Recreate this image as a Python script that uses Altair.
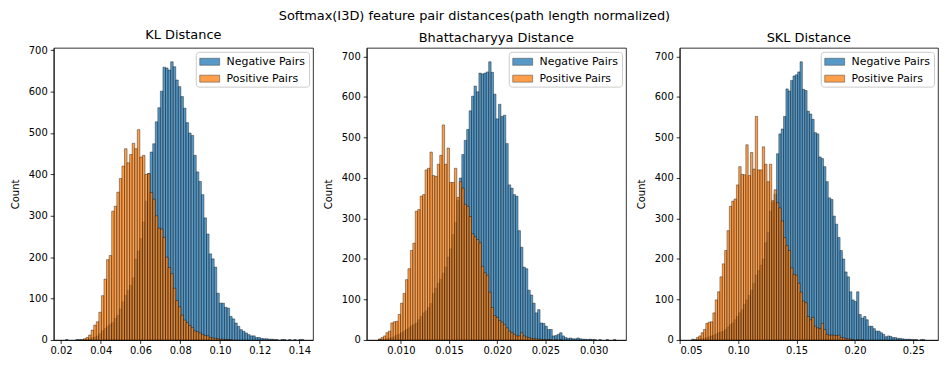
import altair as alt
import pandas as pd

SERIES = ["Negative Pairs", "Positive Pairs"]
COLORS = ["#1f77b4", "#ff7f0e"]
SUPTITLE = "Softmax(I3D) feature pair distances(path length normalized)"
TITLES = ["KL Distance", "Bhattacharyya Distance", "SKL Distance"]
Y_TICKS = [0, 100, 200, 300, 400, 500, 600, 700]

# ---- KL distance histogram (bin start, bin width, counts) ----
KL_START, KL_BIN = 0.0223, 0.00129
KL_NEG = [1, 0, 0, 0, 1, 1, 1, 1, 2, 3,
          5, 7, 10, 15, 22, 28, 33, 38, 42, 52,
          60, 75, 92, 108, 120, 132, 150, 195, 215, 245,
          285, 335, 402, 454, 474, 527, 561, 601, 659, 657,
          652, 672, 660, 628, 612, 588, 560, 525, 500, 494,
          446, 406, 383, 351, 295, 256, 208, 196, 176, 113,
          89, 89, 79, 77, 57, 51, 41, 33, 25, 21,
          17, 13, 10, 10, 6, 6, 4, 3, 3, 2,
          2, 1, 1, 0, 1, 1, 0, 1, 0, 1,
          0, 1, 1]
KL_POS = [0, 0, 0, 0, 0, 0, 0, 3, 6, 12,
          24, 36, 44, 67, 107, 147, 194, 204, 311, 323,
          357, 390, 420, 462, 428, 448, 475, 462, 508, 442,
          446, 400, 402, 356, 340, 300, 270, 268, 248, 200,
          175, 160, 125, 95, 80, 60, 48, 42, 35, 30,
          22, 20, 17, 13, 11, 10, 6, 5, 4, 3,
          2, 2, 1, 1, 1, 0, 0, 0, 0, 0,
          0, 0, 0, 0, 0, 0, 0, 0, 0, 0,
          0, 0, 0, 0, 0, 0, 0, 0, 0, 0,
          0, 0, 0]

# ---- Bhattacharyya distance histogram ----
BH_START, BH_BIN = 0.007685, 0.0002539
BH_NEG = [2, 1, 2, 3, 4, 6, 8, 12, 14, 18,
          22, 26, 30, 35, 38, 42, 50, 58, 67, 72,
          80, 90, 115, 128, 140, 150, 165, 180, 205, 225,
          260, 290, 345, 400, 458, 493, 520, 566, 602, 627,
          613, 659, 657, 659, 662, 687, 661, 607, 546, 582,
          552, 555, 485, 383, 375, 359, 355, 270, 229, 180,
          176, 123, 111, 91, 67, 75, 42, 41, 34, 26,
          26, 10, 11, 14, 18, 10, 6, 4, 5, 3,
          3, 5, 3, 2, 2, 1, 2, 1, 1, 0,
          1, 0, 0, 1, 0, 0, 1]
BH_POS = [2, 6, 10, 18, 22, 42, 45, 46, 63, 91,
          115, 149, 176, 221, 239, 318, 322, 355, 359, 420,
          424, 464, 406, 404, 434, 456, 531, 434, 474, 389,
          389, 424, 352, 391, 375, 335, 330, 305, 262, 255,
          248, 240, 182, 166, 160, 118, 80, 60, 56, 48,
          44, 38, 30, 22, 18, 14, 10, 10, 18, 10,
          7, 6, 4, 3, 3, 2, 2, 1, 1, 1,
          1, 0, 1, 0, 1, 0, 0, 0, 0, 0,
          0, 0, 0, 0, 0, 0, 0, 0, 0, 0,
          0, 0, 0, 0, 0, 0, 0]

# ---- SKL distance histogram ----
SKL_START, SKL_BIN = 0.0600, 0.00202
SKL_NEG = [2, 1, 1, 2, 3, 4, 6, 8, 10, 12,
           15, 18, 20, 22, 26, 32, 38, 42, 50, 58,
           67, 75, 88, 99, 110, 123, 140, 160, 172, 185,
           200, 240, 265, 318, 340, 360, 460, 509, 521, 552,
           620, 615, 641, 652, 655, 662, 687, 619, 616, 565,
           558, 545, 512, 509, 452, 448, 428, 391, 351, 347,
           306, 286, 253, 221, 200, 168, 156, 119, 99, 95,
           119, 63, 54, 58, 50, 34, 34, 28, 22, 22,
           18, 14, 8, 10, 9, 6, 6, 4, 4, 3,
           2, 2, 2, 1, 1, 1, 0, 1, 1, 0]
SKL_POS = [0, 0, 6, 10, 18, 26, 41, 44, 45, 67,
           99, 119, 156, 188, 221, 270, 330, 343, 348, 383,
           428, 409, 408, 482, 406, 463, 422, 552, 420, 420,
           477, 434, 391, 434, 344, 371, 339, 326, 294, 253,
           233, 221, 178, 162, 160, 140, 118, 96, 92, 58,
           50, 56, 34, 30, 28, 41, 26, 14, 12, 12,
           12, 11, 12, 6, 6, 3, 3, 2, 1, 0,
           1, 0, 1, 0, 0, 0, 0, 0, 0, 0,
           0, 0, 0, 0, 0, 0, 0, 0, 0, 0,
           0, 0, 0, 0, 0, 0, 0, 0, 0, 0]

PLOT_H = 294


def frame(start, width, neg, pos):
    rows = []
    for name, counts in zip(SERIES, (neg, pos)):
        for i, c in enumerate(counts):
            if c > 0:
                rows.append({"series": name, "lo": start + i * width,
                             "hi": start + (i + 1) * width, "count": c})
    return pd.DataFrame(rows)


def panel(df, title, xdom, xticks, xfmt, ymax, width):
    color = alt.Color(
        "series:N",
        scale=alt.Scale(domain=SERIES, range=COLORS),
        title=None,
        legend=alt.Legend(
            orient="top-right", offset=4,
            symbolType="M-1.54,-0.54H1.54V0.54H-1.54Z", symbolSize=169,
            symbolOffset=4,
            symbolOpacity=0.75, symbolStrokeColor="black", symbolStrokeWidth=0.5,
            labelFontSize=11, labelColor="black", labelOffset=10,
            padding=3, rowPadding=5,
            fillColor="white", strokeColor="#cccccc", cornerRadius=3,
        ),
    )

    def layer(name):
        return (
            alt.Chart(df)
            .transform_filter(alt.datum.series == name)
            .mark_bar(fillOpacity=0.75, stroke="black", strokeWidth=0.45, strokeOpacity=0.85)
            .encode(
                x=alt.X("lo:Q", scale=alt.Scale(domain=xdom, nice=False, zero=False),
                        axis=alt.Axis(values=xticks, format=xfmt, title=None, labelPadding=2)),
                x2="hi:Q",
                y=alt.Y("count:Q", scale=alt.Scale(domain=[0, ymax], nice=False),
                        axis=alt.Axis(values=Y_TICKS, title="Count", titlePadding=7.5)),
                y2=alt.datum(0),
                color=color,
            )
        )

    return alt.layer(layer(SERIES[0]), layer(SERIES[1])).properties(
        width=width, height=PLOT_H, title=alt.TitleParams(title, offset=3)
    )


kl_df = frame(KL_START, KL_BIN, KL_NEG, KL_POS)
bh_df = frame(BH_START, BH_BIN, BH_NEG, BH_POS)
skl_df = frame(SKL_START, SKL_BIN, SKL_NEG, SKL_POS)

p1 = panel(kl_df, TITLES[0], [0.01635, 0.14685],
           [0.02, 0.04, 0.06, 0.08, 0.10, 0.12, 0.14], ".2f",
           1.05 * max(KL_NEG + KL_POS), 261)
p2 = panel(bh_df, TITLES[1], [0.006454, 0.033361],
           [0.010, 0.015, 0.020, 0.025, 0.030], ".3f",
           1.05 * max(BH_NEG + BH_POS), 261)
p3 = panel(skl_df, TITLES[2], [0.04974, 0.27121],
           [0.05, 0.10, 0.15, 0.20, 0.25], ".2f",
           1.05 * max(SKL_NEG + SKL_POS), 260)

chart = (
    alt.hconcat(p1, p2, p3, spacing=9)
    .resolve_scale(x="independent", y="independent", color="independent")
    .resolve_legend(color="independent")
    .properties(
        title=alt.TitleParams(SUPTITLE, fontSize=13, anchor="middle", offset=6),
        padding={"left": 2, "top": 0, "right": 0, "bottom": 0},
    )
    .configure(font="DejaVu Sans")
    .configure_view(stroke="black", strokeWidth=0.8)
    .configure_axis(
        grid=False, domainColor="black", domainWidth=0.8,
        tickColor="black", tickWidth=0.8, tickSize=3.5,
        labelColor="black", labelFontSize=10, labelPadding=3,
        titleColor="black", titleFontSize=10, titleFontWeight="normal",
    )
    .configure_title(fontSize=13, fontWeight="normal", color="black", font="DejaVu Sans")
)

chart.save("out.html", embed_options={"renderer": "svg", "actions": False})
